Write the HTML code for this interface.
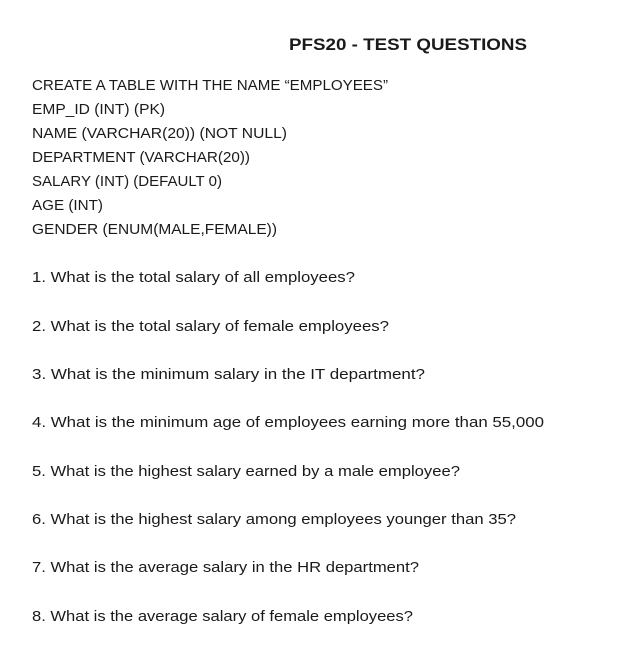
<!DOCTYPE html>
<html>
<head>
<meta charset="utf-8">
<style>
  html,body{margin:0;padding:0;background:#fff;}
  body{width:621px;height:652px;position:relative;overflow:hidden;font-family:"Liberation Sans",sans-serif;color:#1a1a1a;}
  .t{position:absolute;left:32px;font-size:15px;line-height:18px;white-space:nowrap;transform-origin:0 50%;}
  .title{position:absolute;left:289px;top:34px;font-size:17px;font-weight:bold;white-space:nowrap;line-height:22px;transform-origin:0 50%;}
</style>
</head>
<body>
<div class="title" data-r="527">PFS20 - TEST QUESTIONS</div>
<div class="t" data-r="388" style="top:77px">CREATE A TABLE WITH THE NAME “EMPLOYEES”</div>
<div class="t" data-r="165" style="top:101px">EMP_ID (INT) (PK)</div>
<div class="t" data-r="287" style="top:125px">NAME (VARCHAR(20)) (NOT NULL)</div>
<div class="t" data-r="250" style="top:149px">DEPARTMENT (VARCHAR(20))</div>
<div class="t" data-r="222" style="top:173px">SALARY (INT) (DEFAULT 0)</div>
<div class="t" data-r="103" style="top:197px">AGE (INT)</div>
<div class="t" data-r="277" style="top:221px">GENDER (ENUM(MALE,FEMALE))</div>
<div class="t" data-r="355" style="top:269px">1. What is the total salary of all employees?</div>
<div class="t" data-r="389" style="top:318px">2. What is the total salary of female employees?</div>
<div class="t" data-r="425" style="top:366px">3. What is the minimum salary in the IT department?</div>
<div class="t" data-r="544" style="top:414px">4. What is the minimum age of employees earning more than 55,000</div>
<div class="t" data-r="460" style="top:463px">5. What is the highest salary earned by a male employee?</div>
<div class="t" data-r="516" style="top:511px">6. What is the highest salary among employees younger than 35?</div>
<div class="t" data-r="419" style="top:559px">7. What is the average salary in the HR department?</div>
<div class="t" data-r="413" style="top:608px">8. What is the average salary of female employees?</div>
<script>
document.querySelectorAll('[data-r]').forEach(function(el){
  var left = el.offsetLeft;
  var w = el.getBoundingClientRect().width;
  var target = parseFloat(el.getAttribute('data-r')) - left;
  if (w > 0) el.style.transform = 'scaleX(' + (target / w) + ')';
});
</script>
</body>
</html>
